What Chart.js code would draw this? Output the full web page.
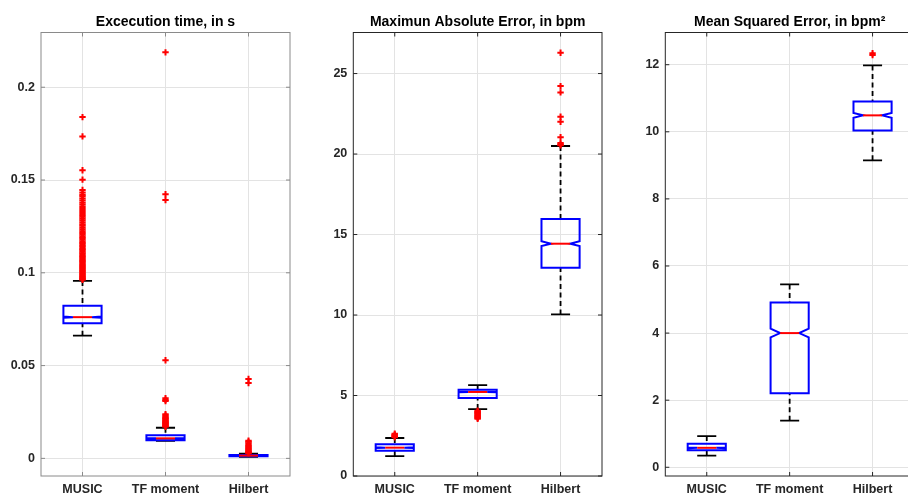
<!DOCTYPE html>
<html>
<head>
<meta charset="utf-8">
<script src="https://cdn.jsdelivr.net/npm/chart.js@4.4.1/dist/chart.umd.min.js"></script>
<style>
html, body { margin: 0; padding: 0; background: #fff; overflow: hidden; }
#page { position: relative; width: 908px; height: 495px; overflow: hidden; }
.panel { position: absolute; top: 0; height: 495px; }
</style>
</head>
<body>
<div id="page">
  <div class="panel" style="left:0px;width:300px"><canvas id="timeChart"></canvas></div>
  <div class="panel" style="left:300px;width:310px"><canvas id="maeChart"></canvas></div>
  <div class="panel" style="left:610px;width:310px"><canvas id="mseChart"></canvas></div>
</div>
<script>
const categories = ["MUSIC", "TF moment", "Hilbert"];

// Excecution time, in s
const timeQ1 = [0.0728, 0.0098, 0.0011];
const timeMedian = [0.0761, 0.0108, 0.0015];
const timeQ3 = [0.0823, 0.0125, 0.0018];
const timeLow = [0.0661, 0.0095, 0.0008];
const timeHigh = [0.0956, 0.0165, 0.0025];
const timeNotch = [0.0003, 0.0002, 0.0001];
const timeOutMusic = [0.0962, 0.0967, 0.0971, 0.0976, 0.0980, 0.0985, 0.0991, 0.0996, 0.1002, 0.1008,
  0.1013, 0.1019, 0.1025, 0.1031, 0.1038, 0.1044, 0.1050, 0.1057, 0.1063, 0.1070, 0.1077, 0.1084,
  0.1091, 0.1098, 0.1105, 0.1113, 0.1121, 0.1128, 0.1136, 0.1144, 0.1152, 0.1160, 0.1169, 0.1178,
  0.1187, 0.1196, 0.1205, 0.1214, 0.1224, 0.1233, 0.1243, 0.1253, 0.1262, 0.1272, 0.1283, 0.1293,
  0.1302, 0.1311, 0.1322, 0.1333, 0.1344, 0.1355, 0.1367, 0.1378, 0.1389, 0.1401, 0.1412, 0.1421,
  0.1433, 0.1446, 0.1502, 0.1553, 0.1735, 0.1839];
const timeOutTf = [0.0170, 0.0174, 0.0178, 0.0182, 0.0186, 0.0190, 0.0194, 0.0199, 0.0203, 0.0208,
  0.0213, 0.0218, 0.0224, 0.0231, 0.0238, 0.0309, 0.0315, 0.0324, 0.0529, 0.1392, 0.1424, 0.2188];
const timeOutHilbert = [0.0027, 0.0031, 0.0035, 0.0039, 0.0044, 0.0049, 0.0054, 0.0060, 0.0066,
  0.0073, 0.0081, 0.0089, 0.0095, 0.0406, 0.0428];
const timeTicks = [0, 0.05, 0.1, 0.15, 0.2];
const timeTickLabels = ["0", "0.05", "0.1", "0.15", "0.2"];

// Maximun Absolute Error, in bpm
const maeQ1 = [1.57, 4.84, 12.94];
const maeMedian = [1.76, 5.22, 14.43];
const maeQ3 = [1.97, 5.36, 15.96];
const maeLow = [1.24, 4.16, 10.04];
const maeHigh = [2.36, 5.65, 20.50];
const maeNotch = [0.02, 0.02, 0.15];
const maeOutMusic = [2.41, 2.45, 2.49, 2.53, 2.57, 2.62];
const maeOutTf = [4.06, 4.01, 3.96, 3.91, 3.86, 3.81, 3.76, 3.71, 3.66, 3.61, 3.56];
const maeOutHilbert = [20.55, 20.60, 20.68, 21.05, 22.00, 22.32, 23.83, 24.22, 26.29];
const maeTicks = [0, 5, 10, 15, 20, 25];
const maeTickLabels = ["0", "5", "10", "15", "20", "25"];

// Mean Squared Error, in bpm^2
const mseQ1 = [0.51, 2.21, 10.04];
const mseMedian = [0.58, 4.00, 10.49];
const mseQ3 = [0.70, 4.91, 10.90];
const mseLow = [0.35, 1.39, 9.15];
const mseHigh = [0.93, 5.45, 11.98];
const mseNotch = [0.01, 0.13, 0.07];
const mseOutMusic = [];
const mseOutTf = [];
const mseOutHilbert = [12.29, 12.34];
const mseTicks = [0, 2, 4, 6, 8, 10, 12];
const mseTickLabels = ["0", "2", "4", "6", "8", "10", "12"];

const FONT = "'Liberation Sans', Arial, Helvetica, sans-serif";
const GRID = '#e3e3e3';

// boxes, notches, whiskers drawn through the chart scales
function boxPlugin(st) {
  return {
    id: 'matlabBoxes',
    beforeDatasetsDraw(chart) {
      const { ctx, scales: { x, y } } = chart;
      const unit = x.getPixelForValue(2) - x.getPixelForValue(1);
      const hw = 0.23 * unit, cw = 0.115 * unit;
      const py = v => y.getPixelForValue(v);
      ctx.save();
      st.q1.forEach((_, i) => {
        const cx = x.getPixelForValue(i + 1);
        // whiskers
        ctx.strokeStyle = '#000';
        ctx.lineWidth = 1.8;
        ctx.setLineDash([5, 3.5]);
        ctx.beginPath();
        ctx.moveTo(cx, py(st.hi[i])); ctx.lineTo(cx, py(st.q3[i]));
        ctx.moveTo(cx, py(st.lo[i])); ctx.lineTo(cx, py(st.q1[i]));
        ctx.stroke();
        ctx.setLineDash([]);
        ctx.beginPath();
        ctx.moveTo(cx - cw, py(st.hi[i])); ctx.lineTo(cx + cw, py(st.hi[i]));
        ctx.moveTo(cx - cw, py(st.lo[i])); ctx.lineTo(cx + cw, py(st.lo[i]));
        ctx.stroke();
        // notched box
        const m = st.med[i], n = st.notch[i];
        ctx.strokeStyle = '#0000ff';
        ctx.lineWidth = 2;
        ctx.lineJoin = 'miter';
        ctx.beginPath();
        ctx.moveTo(cx - hw, py(st.q3[i]));
        ctx.lineTo(cx + hw, py(st.q3[i]));
        ctx.lineTo(cx + hw, py(m + n));
        ctx.lineTo(cx + hw / 2, py(m));
        ctx.lineTo(cx + hw, py(m - n));
        ctx.lineTo(cx + hw, py(st.q1[i]));
        ctx.lineTo(cx - hw, py(st.q1[i]));
        ctx.lineTo(cx - hw, py(m - n));
        ctx.lineTo(cx - hw / 2, py(m));
        ctx.lineTo(cx - hw, py(m + n));
        ctx.closePath();
        ctx.stroke();
        // median
        ctx.strokeStyle = '#ff0000';
        ctx.lineWidth = 2;
        ctx.beginPath();
        ctx.moveTo(cx - hw / 2, py(m)); ctx.lineTo(cx + hw / 2, py(m));
        ctx.stroke();
      });
      ctx.restore();
    }
  };
}

// full axes box with inward ticks on all sides
function framePlugin(color) {
  return {
    id: 'matlabFrame',
    afterDraw(chart) {
      const { ctx, chartArea: a, scales: { x, y } } = chart;
      const t = 4;
      ctx.save();
      ctx.strokeStyle = color;
      ctx.lineWidth = 1;
      ctx.strokeRect(a.left, a.top, a.right - a.left, a.bottom - a.top);
      ctx.beginPath();
      y.ticks.forEach(tk => {
        const p = y.getPixelForValue(tk.value);
        ctx.moveTo(a.left, p); ctx.lineTo(a.left + t, p);
        ctx.moveTo(a.right, p); ctx.lineTo(a.right - t, p);
      });
      x.ticks.forEach(tk => {
        const p = x.getPixelForValue(tk.value);
        ctx.moveTo(p, a.bottom); ctx.lineTo(p, a.bottom - t);
        ctx.moveTo(p, a.top); ctx.lineTo(p, a.top + t);
      });
      ctx.stroke();
      ctx.restore();
    }
  };
}

function makeChart(id, cfg) {
  const outliers = [];
  cfg.out.forEach((list, i) => list.forEach(v => outliers.push({ x: i + 1, y: v })));
  return new Chart(document.getElementById(id), {
    type: 'scatter',
    data: {
      datasets: [{
        data: outliers,
        pointStyle: 'cross',
        pointRadius: 3.2,
        pointBorderWidth: 2,
        pointBorderColor: '#ff0000',
        pointBackgroundColor: '#ff0000'
      }]
    },
    options: {
      responsive: true,
      maintainAspectRatio: false,
      animation: false,
      layout: { padding: { left: 0, right: cfg.padRight, top: 0, bottom: 0 } },
      plugins: {
        legend: { display: false },
        tooltip: { enabled: false },
        title: {
          display: true,
          text: cfg.title,
          fullSize: false,
          color: '#000',
          font: { family: FONT, size: 14, weight: 'bold', lineHeight: 1.2 },
          padding: { top: 13.6, bottom: 2.1 }
        }
      },
      scales: {
        x: {
          type: 'linear',
          min: 0.5,
          max: 3.5,
          afterBuildTicks: s => { s.ticks = categories.map((c, i) => ({ value: i + 1 })); },
          afterFit: s => { s.height = 19; },
          ticks: {
            callback: (v, i) => categories[i],
            color: '#262626',
            font: { family: FONT, size: 12.5, weight: 'bold' },
            padding: 6,
            autoSkip: false,
            maxRotation: 0
          },
          grid: { color: GRID, drawTicks: false },
          border: { display: false }
        },
        y: {
          type: 'linear',
          min: cfg.yMin,
          max: cfg.yMax,
          afterBuildTicks: s => { s.ticks = cfg.ticks.map(v => ({ value: v })); },
          afterFit: s => { s.width = cfg.axisWidth; },
          ticks: {
            callback: (v, i) => cfg.tickLabels[i],
            color: '#262626',
            font: { family: FONT, size: 12.5, weight: 'bold' },
            padding: 6
          },
          grid: { color: GRID, drawTicks: false },
          border: { display: false }
        }
      }
    },
    plugins: [boxPlugin(cfg.stats), framePlugin(cfg.frame)]
  });
}

makeChart('timeChart', {
  title: 'Excecution time, in s',
  stats: { q1: timeQ1, med: timeMedian, q3: timeQ3, lo: timeLow, hi: timeHigh, notch: timeNotch },
  out: [timeOutMusic, timeOutTf, timeOutHilbert],
  ticks: timeTicks, tickLabels: timeTickLabels,
  yMin: -0.0095, yMax: 0.2295,
  axisWidth: 41, padRight: 10, frame: '#8a8a8a'
});

makeChart('maeChart', {
  title: 'Maximun Absolute Error, in bpm',
  stats: { q1: maeQ1, med: maeMedian, q3: maeQ3, lo: maeLow, hi: maeHigh, notch: maeNotch },
  out: [maeOutMusic, maeOutTf, maeOutHilbert],
  ticks: maeTicks, tickLabels: maeTickLabels,
  yMin: 0, yMax: 27.55,
  axisWidth: 53.3, padRight: 8, frame: '#262626'
});

makeChart('mseChart', {
  title: 'Mean Squared Error, in bpm\u00b2',
  stats: { q1: mseQ1, med: mseMedian, q3: mseQ3, lo: mseLow, hi: mseHigh, notch: mseNotch },
  out: [mseOutMusic, mseOutTf, mseOutHilbert],
  ticks: mseTicks, tickLabels: mseTickLabels,
  yMin: -0.26, yMax: 12.96,
  axisWidth: 55.3, padRight: 5.8, frame: '#262626'
});
</script>
</body>
</html>
